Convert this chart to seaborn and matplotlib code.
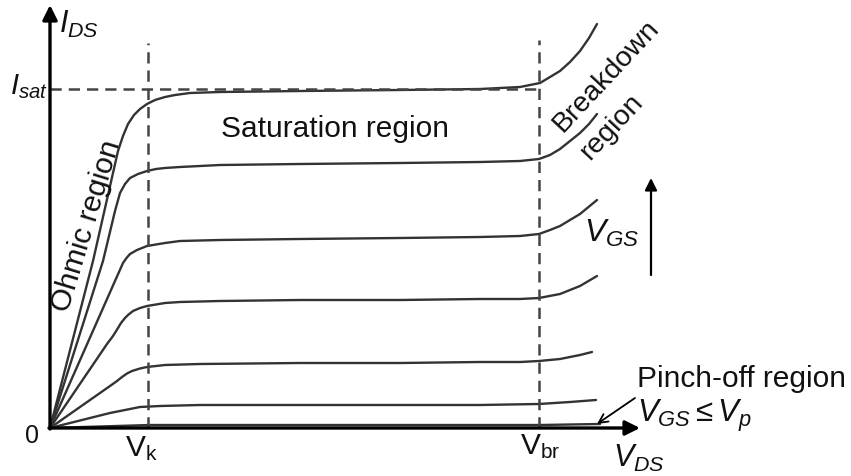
import numpy as np
import pandas as pd
import matplotlib
matplotlib.use("Agg")
import matplotlib.pyplot as plt
import seaborn as sns

# ---- data (V_DS, I_DS in arbitrary units) ----
curve_names = ["c1", "c2", "c3", "c4", "c5", "c6", "c7"]
vds_c1 = [0, 4.3, 6.8, 7.3, 7.8, 8.4, 9.0, 9.7, 10.5, 11.5, 12.5, 14, 17, 25, 35, 43, 47, 49, 51, 52, 53, 53.9, 54.7]
ids_c1 = [0, 16.7, 27.7, 29.2, 30.4, 31.3, 31.9, 32.4, 32.8, 33.1, 33.3, 33.5, 33.6, 33.7, 33.8, 33.9, 34.1, 34.5, 35.7, 36.6, 37.7, 39.0, 40.4]
vds_c2 = [0, 5.3, 6.5, 7.0, 7.5, 8.0, 8.8, 9.7, 10.6, 11.5, 13, 17, 25, 35, 43, 47, 48.9, 50, 51, 52, 53, 53.9, 54.7]
ids_c2 = [0, 16.7, 21.7, 23.5, 24.4, 25.0, 25.4, 25.7, 25.9, 26.0, 26.1, 26.3, 26.4, 26.5, 26.6, 26.7, 26.9, 27.3, 27.9, 28.7, 29.5, 30.4, 31.4]
vds_c3 = [0, 6.5, 7.3, 7.65, 8.0, 8.7, 9.7, 11.5, 13, 17, 25, 35, 43, 47, 48.9, 50, 51, 52, 53, 54.7]
ids_c3 = [0, 14.7, 16.5, 17.0, 17.4, 17.8, 18.2, 18.5, 18.7, 18.8, 18.9, 19.0, 19.1, 19.2, 19.4, 19.8, 20.2, 20.8, 21.4, 22.8]
vds_c4 = [0, 5.7, 6.3, 6.8, 7.1, 7.5, 7.8, 8.3, 9.0, 9.7, 11.5, 13, 17, 25, 35, 43, 47, 48.9, 51, 52, 53, 54.7]
ids_c4 = [0, 8.4, 9.2, 10.0, 10.5, 11.0, 11.3, 11.7, 12.0, 12.2, 12.5, 12.6, 12.7, 12.8, 12.8, 12.9, 12.9, 13.0, 13.4, 13.8, 14.2, 15.2]
vds_c5 = [0, 6.0, 6.7, 7.2, 7.7, 8.2, 9.0, 9.7, 11.5, 15, 25, 35, 43, 47, 48.9, 51, 53, 54.2]
ids_c5 = [0, 4.2, 4.7, 5.1, 5.45, 5.7, 5.95, 6.1, 6.3, 6.4, 6.5, 6.5, 6.6, 6.6, 6.7, 6.9, 7.3, 7.6]
vds_c6 = [0, 6.0, 7.5, 9.0, 11, 15, 25, 35, 43, 48.9, 52, 54.6]
ids_c6 = [0, 1.5, 1.8, 2.1, 2.2, 2.3, 2.3, 2.3, 2.3, 2.4, 2.6, 2.8]
vds_c7 = [0, 10, 25, 49, 55]
ids_c7 = [0, 0.3, 0.3, 0.3, 0.4]

v_k = 9.8
v_br = 48.9
i_sat = 33.9

all_vds = [vds_c1, vds_c2, vds_c3, vds_c4, vds_c5, vds_c6, vds_c7]
all_ids = [ids_c1, ids_c2, ids_c3, ids_c4, ids_c5, ids_c6, ids_c7]
frames = []
for name, xs, ys in zip(curve_names, all_vds, all_ids):
    frames.append(pd.DataFrame({"vds": xs, "ids": ys, "curve": name}))
df = pd.concat(frames, ignore_index=True)

# ---- figure ----
sns.set_theme(style="white")
plt.rcParams["font.family"] = ["Liberation Sans", "DejaVu Sans"]
plt.rcParams["mathtext.fontset"] = "custom"
plt.rcParams["mathtext.rm"] = "Liberation Sans"
plt.rcParams["mathtext.it"] = "Liberation Sans:italic"
plt.rcParams["mathtext.bf"] = "Liberation Sans:bold"

fig = plt.figure(figsize=(8.51, 4.76), dpi=100)
ax = fig.add_axes([0, 0, 1, 1])
ax.set_xlim(-5, 80.1)
ax.set_ylim(-4.8, 42.8)
ax.axis("off")

sns.lineplot(data=df, x="vds", y="ids", units="curve", estimator=None, sort=False,
             color="#333333", lw=1.7, ax=ax, legend=False)

dash_kw = dict(color="#444444", lw=1.8, dashes=(4.5, 2.8))
ax.plot([0, v_br], [i_sat, i_sat], **dash_kw)
ax.plot([v_k, v_k], [0, 38.5], **dash_kw)
ax.plot([v_br, v_br], [0, 38.8], **dash_kw)

# axes with arrows
ax.annotate("", xy=(0, 42.3), xytext=(0, -0.1),
            arrowprops=dict(arrowstyle="-|>", lw=2.4, color="black", mutation_scale=22, shrinkA=0, shrinkB=0))
ax.annotate("", xy=(59.0, 0.0), xytext=(-0.1, 0.0),
            arrowprops=dict(arrowstyle="-|>", lw=2.4, color="black", mutation_scale=22, shrinkA=0, shrinkB=0))
# V_GS arrow
ax.annotate("", xy=(60.1, 25.0), xytext=(60.1, 15.3),
            arrowprops=dict(arrowstyle="-|>", lw=1.6, color="black", mutation_scale=18, shrinkA=0, shrinkB=0))
# pinch-off arrow
ax.annotate("", xy=(54.7, 0.4), xytext=(58.5, 3.0),
            arrowprops=dict(arrowstyle="->", lw=1.3, color="black", mutation_scale=16, shrinkA=0, shrinkB=0))

tc = "#111111"
ax.text(28.5, 29.1, "Saturation region", fontsize=21.5, ha="center", va="baseline", color=tc)
ax.text(3.7, 20.2, "Ohmic region", fontsize=21.5, ha="center", va="center", rotation=73,
        rotation_mode="anchor", color=tc)
ax.text(55.6, 35.2, "Breakdown", fontsize=20.5, ha="center", va="center", rotation=47,
        rotation_mode="anchor", color=tc)
ax.text(56.2, 30.1, "region", fontsize=20.5, ha="center", va="center", rotation=47,
        rotation_mode="anchor", color=tc)
ax.text(56.2, 19.5, r"$V_{GS}$", fontsize=23, ha="center", va="center", color=tc)
ax.text(58.7, 4.1, "Pinch-off region", fontsize=21.5, ha="left", va="baseline", color=tc)
ax.text(58.7, 0.6, r"$V_{GS} \leq V_p$", fontsize=22.5, ha="left", va="baseline", color=tc)
ax.text(9.1, -2.8, r"$\mathrm{V}_{\mathrm{k}}$", fontsize=21.5, ha="center", va="baseline", color=tc)
ax.text(49.0, -2.6, r"$\mathrm{V}_{\mathrm{br}}$", fontsize=21.5, ha="center", va="baseline", color=tc)
ax.text(58.9, -3.9, r"$V_{DS}$", fontsize=22, ha="center", va="baseline", color=tc)
ax.text(0.9, 39.5, r"$I_{DS}$", fontsize=22, ha="left", va="baseline", color=tc)
ax.text(-4.0, 33.4, r"$I_{sat}$", fontsize=21, ha="left", va="baseline", color=tc)
ax.text(-1.8, -0.8, "0", fontsize=18, ha="center", va="center", color=tc)

fig.savefig("out.png", dpi=100)
